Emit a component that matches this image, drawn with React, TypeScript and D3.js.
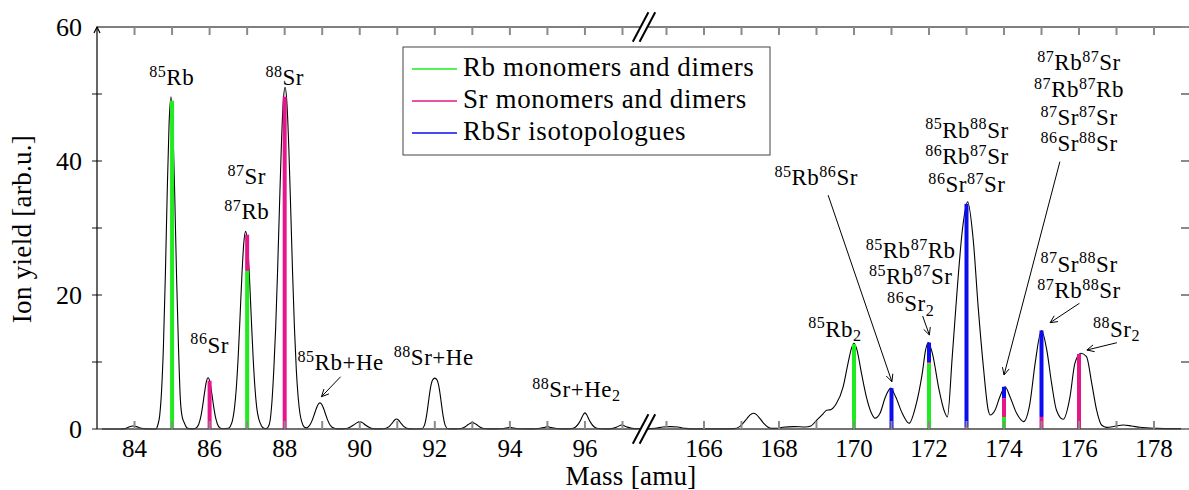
import React from 'react';
import * as d3 from 'd3';

const W = 1189;
const H = 490;

// Measured ion-yield trace (mass in amu, yield in arb.u.), low-mass window
const traceLow: [number, number][] = [
  [83.0, 0], [83.6, 0], [83.75, 0.05], [83.85, 0.3], [83.95, 0.45], [84.05, 0.35], [84.15, 0.15], [84.3, 0.02], [84.5, 0],
  [84.57, 0], [84.62, 0.6], [84.67, 2.0], [84.72, 5.7], [84.77, 12.4], [84.82, 22.7], [84.87, 35.1], [84.92, 45.5], [84.97, 49.6],
  [85.02, 45.5], [85.07, 35.1], [85.12, 22.7], [85.17, 12.4], [85.22, 4.5], [85.27, 1.8], [85.32, 1.0], [85.4, 0.15], [85.5, 0.02],
  [85.6, 0.05], [85.66, 0.25], [85.71, 0.72], [85.76, 1.69], [85.81, 3.27], [85.86, 5.24], [85.91, 6.96], [85.96, 7.65],
  [86.01, 6.96], [86.06, 5.24], [86.11, 3.27], [86.16, 1.69], [86.21, 0.72], [86.26, 0.25], [86.35, 0.03],
  [86.5, 0.1], [86.56, 0.5], [86.61, 1.3], [86.66, 3.0], [86.71, 6.0], [86.76, 10.6], [86.81, 16.6], [86.86, 22.9], [86.91, 27.7],
  [86.96, 29.5], [87.01, 27.7], [87.06, 22.9], [87.11, 16.6], [87.16, 10.6], [87.21, 6.0], [87.26, 3.0], [87.31, 1.5], [87.38, 0.5],
  [87.45, 0.1], [87.5, 0.05],
  [87.56, 0.3], [87.61, 1.2], [87.66, 4.0], [87.71, 8.8], [87.76, 15.1], [87.81, 23.4], [87.86, 32.9], [87.91, 42.0], [87.96, 48.6],
  [88.01, 51.0], [88.06, 48.6], [88.11, 42.0], [88.16, 32.9], [88.21, 23.4], [88.26, 15.1], [88.31, 8.8], [88.36, 4.7], [88.41, 2.2],
  [88.46, 1.0], [88.52, 0.3],
  [88.59, 0.17], [88.64, 0.39], [88.69, 0.79], [88.74, 1.4], [88.79, 2.2], [88.84, 3.02], [88.89, 3.66], [88.94, 3.9], [88.99, 3.66],
  [89.04, 3.02], [89.09, 2.2], [89.14, 1.4], [89.19, 0.79], [89.24, 0.39], [89.29, 0.17], [89.4, 0.02],
  [89.55, 0.02], [89.65, 0.08], [89.75, 0.3], [89.85, 0.65], [89.93, 0.95], [90.0, 1.1], [90.07, 0.95], [90.15, 0.6], [90.25, 0.25],
  [90.35, 0.05],
  [90.55, 0.02], [90.68, 0.08], [90.78, 0.35], [90.86, 0.85], [90.93, 1.35], [90.98, 1.5], [91.03, 1.35], [91.1, 0.85], [91.18, 0.35],
  [91.28, 0.05],
  [91.45, 0.01], [91.65, 0.03], [91.72, 0.5], [91.78, 2.0], [91.83, 4.0], [91.88, 6.0], [91.94, 7.3], [92.0, 7.6], [92.06, 7.3],
  [92.12, 6.0], [92.17, 4.0], [92.22, 2.0], [92.28, 0.5], [92.35, 0.03],
  [92.55, 0.02], [92.7, 0.08], [92.8, 0.3], [92.9, 0.7], [93.0, 0.95], [93.1, 0.7], [93.2, 0.3], [93.3, 0.08], [93.45, 0.02],
  [93.75, 0.03], [93.9, 0.15], [94.0, 0.25], [94.1, 0.15], [94.25, 0.03],
  [94.6, 0.02], [94.8, 0.1], [94.9, 0.22], [95.0, 0.35], [95.1, 0.22], [95.2, 0.1], [95.4, 0.02],
  [95.55, 0.02], [95.65, 0.07], [95.75, 0.3], [95.83, 0.8], [95.9, 1.5], [95.95, 2.1], [96.0, 2.4], [96.05, 2.1], [96.1, 1.5],
  [96.17, 0.8], [96.25, 0.3], [96.35, 0.07], [96.5, 0.02],
  [96.7, 0.05], [96.85, 0.3], [96.98, 0.6], [97.1, 0.35], [97.25, 0.1], [97.4, 0.05], [97.57, 0.05],
];

// Measured ion-yield trace, dimer window
const traceHigh: [number, number][] = [
  [164.43, 0.05], [164.7, 0.1], [164.9, 0.3], [165.1, 0.35], [165.3, 0.3], [165.5, 0.1], [165.8, 0.02], [166.5, 0.02],
  [166.8, 0.05], [166.95, 0.35], [167.05, 0.9], [167.15, 1.6], [167.23, 2.1], [167.31, 2.35], [167.4, 2.15], [167.5, 1.5],
  [167.6, 0.8], [167.7, 0.3], [167.8, 0.1], [167.95, 0.1], [168.1, 0.25], [168.4, 0.35], [168.7, 0.3], [168.85, 0.45],
  [169.0, 1.3], [169.18, 2.3], [169.27, 2.8], [169.36, 2.85], [169.53, 3.8], [169.71, 6.3], [169.84, 9.8], [169.93, 12.0],
  [170.0, 12.8], [170.07, 12.0], [170.2, 8.3], [170.33, 4.8], [170.47, 2.3], [170.56, 1.6], [170.69, 2.3], [170.84, 4.8],
  [170.98, 6.1], [171.11, 4.8], [171.29, 2.3], [171.47, 0.85], [171.64, 3.3], [171.82, 8.3], [171.91, 11.8], [171.98, 12.9],
  [172.09, 11.3], [172.27, 5.8], [172.4, 2.8], [172.49, 1.8], [172.62, 10.8], [172.75, 20.7], [172.89, 29.7], [173.03, 33.9],
  [173.18, 28.2], [173.31, 18.3], [173.45, 9.3], [173.58, 2.8], [173.63, 2.1], [173.76, 2.8], [173.89, 4.8], [174.03, 6.3],
  [174.16, 4.8], [174.34, 2.3], [174.52, 1.1], [174.69, 3.8], [174.83, 9.8], [175.0, 14.7], [175.14, 11.8], [175.27, 6.8],
  [175.4, 2.8], [175.58, 1.45], [175.76, 4.8], [175.89, 9.8], [176.05, 11.3], [176.2, 10.8], [176.34, 6.8], [176.47, 2.8],
  [176.6, 0.6], [176.74, 0.25], [176.95, 0.4], [177.18, 0.6], [177.4, 0.45], [177.63, 0.25], [178.07, 0.1], [178.5, 0.05],
  [179.0, 0.05],
];

// Assigned stick contributions per nominal mass
const stickMasses = [85, 86, 87, 88, 170, 171, 172, 173, 174, 175, 176];
const rbYield = [49.0, 0, 23.6, 0, 12.7, 0, 9.8, 0, 1.8, 0, 0];
const srYield = [0, 7.2, 5.4, 49.6, 0, 0, 0.2, 0.3, 2.8, 1.8, 11.2];
const rbsrYield = [0, 0, 0, 0, 0, 6.1, 2.9, 33.3, 1.7, 12.9, 0];

const seriesKeys = ['rb', 'sr', 'rbsr'];
const seriesNames = ['Rb monomers and dimers', 'Sr monomers and dimers', 'RbSr isotopologues'];
const seriesColors = ['#1fec1f', '#e8158a', '#0c0cf0'];

const yMajorTicks = [0, 20, 40, 60];
const yMinorTicks = [10, 30, 50];
const lowTickMasses = d3.range(84, 98);
const highTickMasses = d3.range(165, 179);
const lowTickLabels = [84, 86, 88, 90, 92, 94, 96];
const highTickLabels = [166, 168, 170, 172, 174, 176, 178];

// Peak annotations: text lines anchored at (mass, yield) of their baseline centre
const peakLabels: { text: string; mass: number; value: number }[] = [
  { text: '^{85}Rb', mass: 84.99, value: 51.3 },
  { text: '^{88}Sr', mass: 88.0, value: 51.3 },
  { text: '^{87}Sr', mass: 86.99, value: 36.5 },
  { text: '^{87}Rb', mass: 86.99, value: 31.3 },
  { text: '^{86}Sr', mass: 86.0, value: 11.4 },
  { text: '^{85}Rb+He', mass: 89.49, value: 8.8 },
  { text: '^{88}Sr+He', mass: 91.97, value: 9.5 },
  { text: '^{88}Sr+He_{2}', mass: 95.77, value: 4.8 },
  { text: '^{85}Rb_{2}', mass: 169.49, value: 13.8 },
  { text: '^{85}Rb^{86}Sr', mass: 168.99, value: 36.4 },
  { text: '^{85}Rb^{88}Sr', mass: 173.01, value: 43.5 },
  { text: '^{86}Rb^{87}Sr', mass: 173.01, value: 39.5 },
  { text: '^{86}Sr^{87}Sr', mass: 173.01, value: 35.4 },
  { text: '^{87}Rb^{87}Sr', mass: 176.0, value: 53.6 },
  { text: '^{87}Rb^{87}Rb', mass: 176.0, value: 49.5 },
  { text: '^{87}Sr^{87}Sr', mass: 176.0, value: 45.4 },
  { text: '^{86}Sr^{88}Sr', mass: 176.0, value: 41.5 },
  { text: '^{85}Rb^{87}Rb', mass: 171.51, value: 25.5 },
  { text: '^{85}Rb^{87}Sr', mass: 171.51, value: 21.6 },
  { text: '^{86}Sr_{2}', mass: 171.51, value: 17.6 },
  { text: '^{87}Sr^{88}Sr', mass: 176.0, value: 23.5 },
  { text: '^{87}Rb^{88}Sr', mass: 176.0, value: 19.5 },
  { text: '^{88}Sr_{2}', mass: 177.0, value: 13.8 },
];

// Leader arrows: from label (m1, v1) to peak (m2, v2)
const leaders: { m1: number; v1: number; m2: number; v2: number }[] = [
  { m1: 89.49, v1: 7.8, m2: 88.98, v2: 4.82 },
  { m1: 169.31, v1: 34.9, m2: 171.01, v2: 7.06 },
  { m1: 171.83, v1: 16.87, m2: 172.01, v2: 14.03 },
  { m1: 175.49, v1: 39.9, m2: 174.0, v2: 8.06 },
  { m1: 176.01, v1: 18.76, m2: 175.23, v2: 15.87 },
  { m1: 177.01, v1: 12.88, m2: 176.21, v2: 11.79 },
];

const FONT = 'Liberation Serif';

function RichText(props: { x: number; y: number; text: string; size: number; anchor?: string; spacing?: number }) {
  const { x, y, text, size, anchor = 'middle', spacing = 0 } = props;
  const parts = text.split(/(\^\{[^}]*\}|_\{[^}]*\})/).filter((p) => p.length > 0);
  let shift = 0;
  const spans = parts.map((p, i) => {
    let target = 0;
    let content = p;
    let fs = size;
    if (p.startsWith('^{')) {
      target = -0.36 * size;
      content = p.slice(2, -1);
      fs = 0.7 * size;
    } else if (p.startsWith('_{')) {
      target = 0.2 * size;
      content = p.slice(2, -1);
      fs = 0.7 * size;
    }
    const dy = target - shift;
    shift = target;
    return (
      <tspan key={i} dy={dy} style={{ fontSize: `${fs}px` }}>
        {content}
      </tspan>
    );
  });
  return (
    <text
      x={x}
      y={y}
      textAnchor={anchor as any}
      style={{ fontFamily: FONT, fontSize: `${size}px`, letterSpacing: `${spacing}px` }}
      fill="#000"
    >
      {spans}
    </text>
  );
}

export default function App() {
  const breakX = 644;
  const xLow = d3.scaleLinear().domain([83, 97.573]).range([97, breakX]);
  const xHigh = d3.scaleLinear().domain([164.4, 179]).range([breakX, 1191.5]);
  const xm = (m: number) => (m < 130 ? xLow(m) : xHigh(m));
  const y = d3.scaleLinear().domain([0, 60]).range([429, 27]);

  const line = d3
    .line<[number, number]>()
    .x((d) => xm(d[0]))
    .y((d) => y(d[1]))
    .curve(d3.curveMonotoneX);

  const rows = stickMasses.map((m, i) => ({ mass: m, rb: rbYield[i], sr: srYield[i], rbsr: rbsrYield[i] }));
  const stacked = d3.stack<any>().keys(seriesKeys)(rows);

  const plotLeft = xLow(83);
  const plotRight = W;
  const yTop = y(60);
  const yBot = y(0);
  const tickColor = '#8a8a8a';
  const tickLen = 8;

  const txt = (size: number, spacing = 0) => ({
    fontFamily: FONT,
    fontSize: `${size}px`,
    letterSpacing: `${spacing}px`,
  });

  // axis break "//" marks
  const breakMark = (cy: number, key: string) => {
    const dx = 7.8;
    const dy = 14.7;
    const off = 3.4;
    const a1 = [breakX - off - dx, cy + dy];
    const a2 = [breakX - off + dx, cy - dy];
    const b1 = [breakX + off - dx, cy + dy];
    const b2 = [breakX + off + dx, cy - dy];
    return (
      <g key={key}>
        <polygon points={`${a1} ${a2} ${b2} ${b1}`} fill="#fff" />
        <line x1={a1[0]} y1={a1[1]} x2={a2[0]} y2={a2[1]} stroke="#000" strokeWidth={2} />
        <line x1={b1[0]} y1={b1[1]} x2={b2[0]} y2={b2[1]} stroke="#000" strokeWidth={2} />
      </g>
    );
  };

  const arrowHead = (x1: number, y1: number, x2: number, y2: number) => {
    const ang = Math.atan2(y2 - y1, x2 - x1);
    const len = 8;
    const spread = 0.45;
    const p1 = [x2 - len * Math.cos(ang - spread), y2 - len * Math.sin(ang - spread)];
    const p2 = [x2 - len * Math.cos(ang + spread), y2 - len * Math.sin(ang + spread)];
    return `M${p1[0]},${p1[1]} L${x2},${y2} L${p2[0]},${p2[1]}`;
  };

  return (
    <svg
      width={W}
      height={H}
      viewBox={`0 0 ${W} ${H}`}
      style={{ position: 'absolute', left: 0, top: 0, background: '#fff' }}
    >
      <rect x={0} y={0} width={W} height={H} fill="#fff" />

      {/* spectrum trace */}
      <path d={line(traceLow) || ''} fill="none" stroke="#000" strokeWidth={1.1} />
      <path d={line(traceHigh) || ''} fill="none" stroke="#000" strokeWidth={1.1} />

      {/* stacked assignment sticks */}
      {stacked.map((layer, si) => (
        <g key={seriesKeys[si]}>
          {layer.map((d, i) =>
            d[1] - d[0] > 0 ? (
              <rect
                key={i}
                x={xm(stickMasses[i]) - 2}
                width={4}
                y={y(d[1])}
                height={y(d[0]) - y(d[1])}
                fill={seriesColors[si]}
              />
            ) : null
          )}
        </g>
      ))}

      {/* frame lines */}
      <line x1={plotLeft} y1={yTop} x2={plotRight} y2={yTop} stroke="#000" strokeWidth={1.2} />
      <line x1={plotLeft} y1={yBot} x2={plotRight} y2={yBot} stroke="#444" strokeWidth={1.5} />

      {/* x ticks top and bottom */}
      {[...lowTickMasses, ...highTickMasses].map((m) => (
        <g key={`xt${m}`}>
          <line x1={xm(m)} x2={xm(m)} y1={yBot} y2={yBot - tickLen} stroke={tickColor} strokeWidth={2} />
          <line x1={xm(m)} x2={xm(m)} y1={yTop} y2={yTop + tickLen} stroke={tickColor} strokeWidth={2} />
        </g>
      ))}

      {/* y ticks left and right */}
      {[...yMajorTicks, ...yMinorTicks].map((v) => (
        <g key={`yt${v}`}>
          {v !== 60 && (
            <line x1={plotLeft - 5} x2={plotLeft + 5} y1={y(v)} y2={y(v)} stroke={tickColor} strokeWidth={2} />
          )}
          <line x1={plotRight - tickLen} x2={plotRight} y1={y(v)} y2={y(v)} stroke={tickColor} strokeWidth={2} />
        </g>
      ))}

      {/* y axis with arrow */}
      <line x1={plotLeft} y1={yBot} x2={plotLeft} y2={yTop} stroke="#000" strokeWidth={1.2} />
      <path
        d={`M${plotLeft - 3},${yTop + 6} L${plotLeft},${yTop} L${plotLeft + 3},${yTop + 6}`}
        fill="none"
        stroke="#000"
        strokeWidth={1.2}
      />

      {breakMark(yTop, 'bt')}
      {breakMark(yBot, 'bb')}

      {/* tick labels */}
      {yMajorTicks.map((v) => (
        <text key={`yl${v}`} x={82} y={y(v) + 9} textAnchor="end" style={txt(26)}>
          {v}
        </text>
      ))}
      {[...lowTickLabels, ...highTickLabels].map((m) => (
        <text key={`xl${m}`} x={xm(m)} y={457} textAnchor="middle" style={txt(25)}>
          {m}
        </text>
      ))}

      {/* axis titles */}
      <text x={631} y={485} textAnchor="middle" style={txt(27, 0.3)}>
        Mass [amu]
      </text>
      <text transform="translate(31,229) rotate(-90)" textAnchor="middle" style={txt(27, 0.3)}>
        Ion yield [arb.u.]
      </text>

      {/* legend */}
      <g>
        <rect x={403} y={47} width={367} height={108} fill="#fff" stroke="#444" strokeWidth={1} />
        {seriesNames.map((name, i) => (
          <g key={name}>
            <line x1={412} x2={457} y1={69 + i * 32} y2={69 + i * 32} stroke={seriesColors[i]} strokeWidth={1.3} />
            <text x={463} y={76 + i * 32} style={txt(27, 0.6)}>
              {name}
            </text>
          </g>
        ))}
      </g>

      {/* annotations */}
      {peakLabels.map((l, i) => (
        <RichText key={`pl${i}`} x={xm(l.mass)} y={y(l.value)} text={l.text} size={23} spacing={0.5} />
      ))}
      {leaders.map((a, i) => {
        const x1 = xm(a.m1);
        const y1 = y(a.v1);
        const x2 = xm(a.m2);
        const y2 = y(a.v2);
        return (
          <g key={`ld${i}`} fill="none" stroke="#000" strokeWidth={1}>
            <line x1={x1} y1={y1} x2={x2} y2={y2} />
            <path d={arrowHead(x1, y1, x2, y2)} />
          </g>
        );
      })}
    </svg>
  );
}
